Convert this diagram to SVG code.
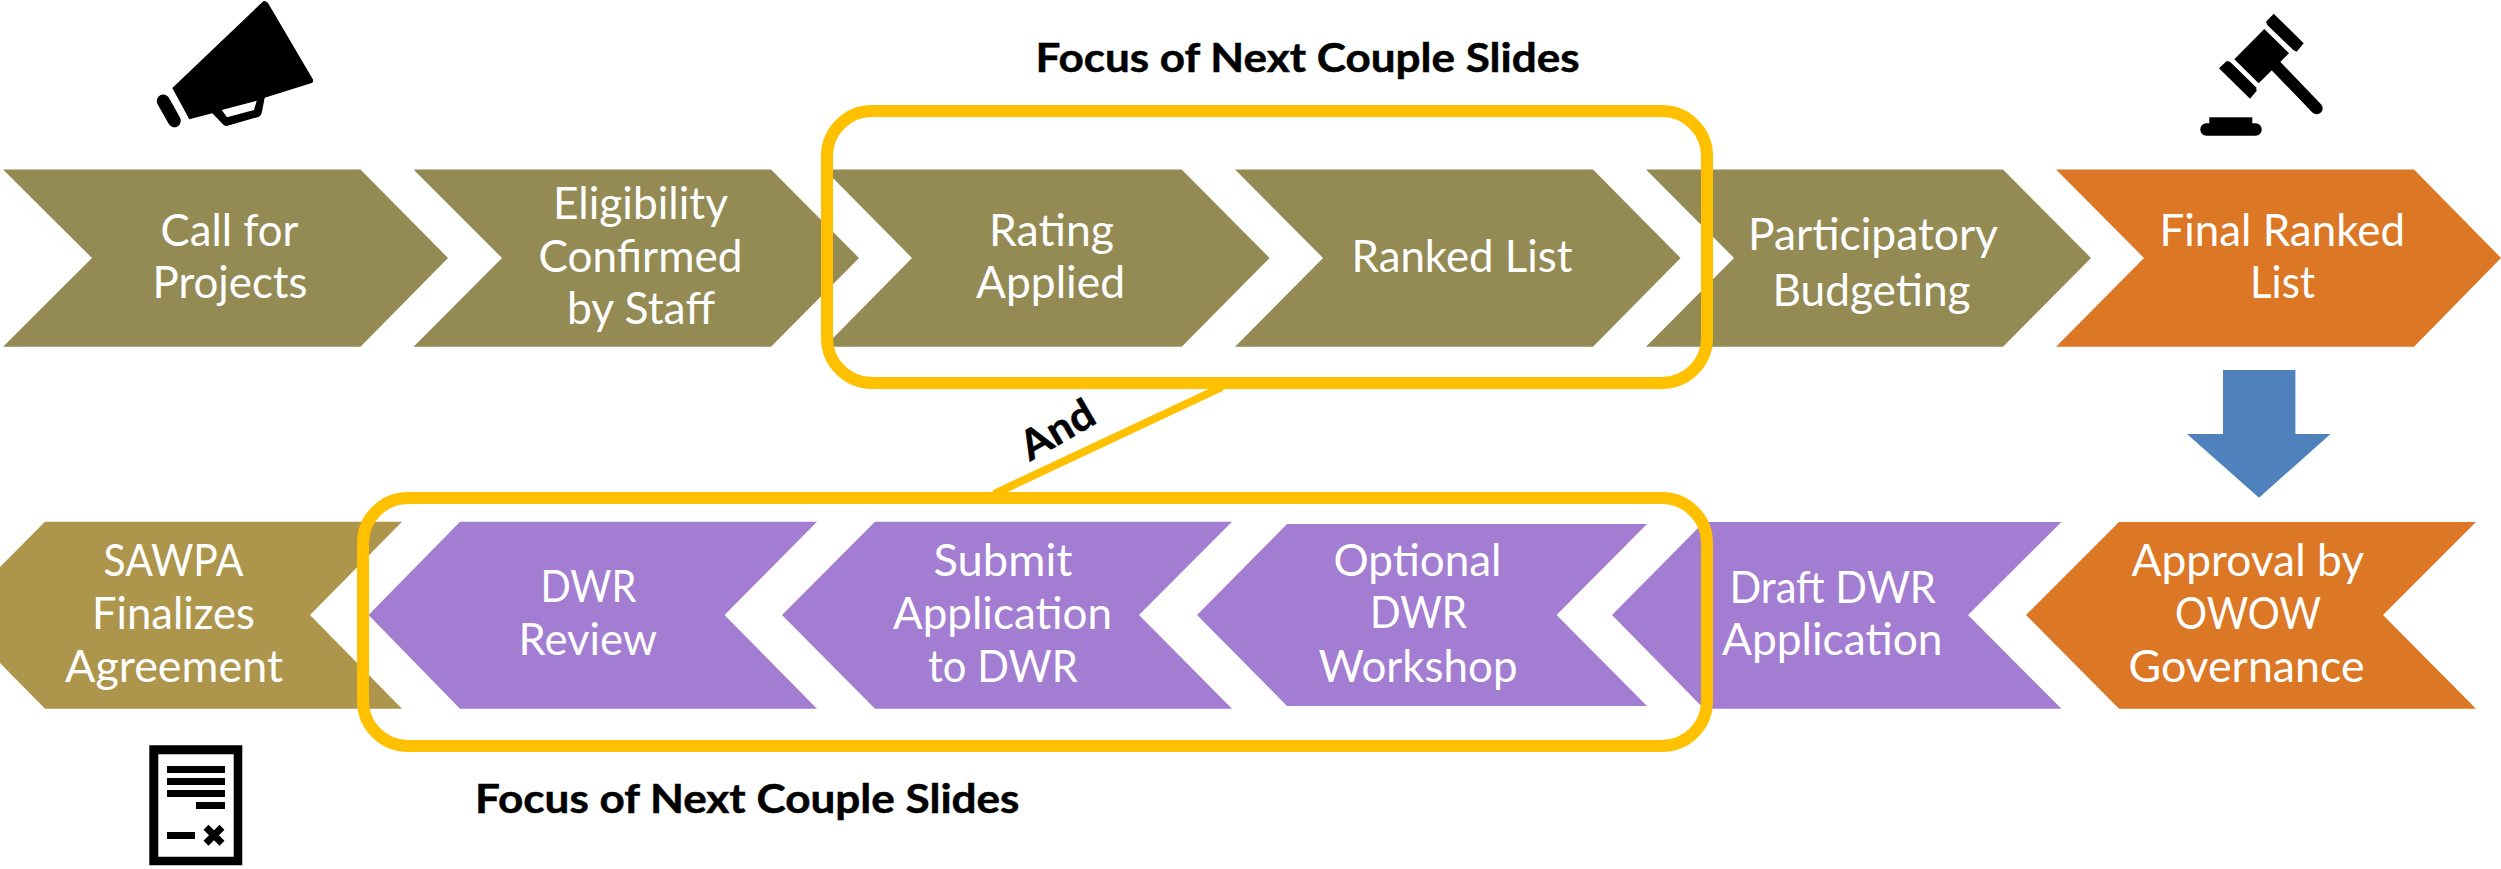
<svg xmlns="http://www.w3.org/2000/svg" width="2501" height="869" viewBox="0 0 2501 869">
<style>
.olive{fill:#948A54}.orange{fill:#DC7725}.purple{fill:#A37DD1}.gold{fill:#AE954C}
.t{font-family:Lato,"Open Sans","Liberation Sans",sans-serif;font-size:45px;fill:#fff}
.b{font-family:Lato,"Open Sans","Liberation Sans",sans-serif;font-size:41px;font-weight:700;fill:#000;stroke:#000;stroke-width:.5px}
.focus{fill:none;stroke:#FFC000;stroke-width:12}
</style>
<rect width="2501" height="869" fill="#fff"/>
<g id="n-call"><path class="olive" d="M3 169.500H360.500L448 258L360.500 346.700H3L92 258Z"/>
<text class="t" x="160.500" y="246" textLength="138" lengthAdjust="spacingAndGlyphs">Call for</text>
<text class="t" x="152.500" y="297.700" textLength="155" lengthAdjust="spacingAndGlyphs">Projects</text></g>
<g id="n-eligibility"><path class="olive" d="M413.500 169.500H771L859 258L771 346.700H413.500L502 258Z"/>
<text class="t" x="553" y="218.500" textLength="175" lengthAdjust="spacingAndGlyphs">Eligibility</text>
<text class="t" x="538.500" y="271.700" textLength="204" lengthAdjust="spacingAndGlyphs">Confirmed</text>
<text class="t" x="567" y="324.300" textLength="148" lengthAdjust="spacingAndGlyphs">by Staff</text></g>
<g id="n-rating"><path class="olive" d="M824.500 169.500H1181.700L1269.600 258L1181.700 346.700H824.500L912 258Z"/>
<text class="t" x="989" y="246" textLength="125" lengthAdjust="spacingAndGlyphs">Rating</text>
<text class="t" x="976" y="297.700" textLength="149" lengthAdjust="spacingAndGlyphs">Applied</text></g>
<g id="n-ranked"><path class="olive" d="M1235 169.500H1593L1680.600 258L1593 346.700H1235L1323 258Z"/>
<text class="t" x="1351.500" y="271.700" textLength="221" lengthAdjust="spacingAndGlyphs">Ranked List</text></g>
<g id="n-participatory"><path class="olive" d="M1646 169.500H2003L2091 258L2003 346.700H1646L1734 258Z"/>
<text class="t" x="1748" y="250" textLength="250" lengthAdjust="spacingAndGlyphs">Participatory</text>
<text class="t" x="1772.500" y="306" textLength="198" lengthAdjust="spacingAndGlyphs">Budgeting</text></g>
<g id="n-final"><path class="orange" d="M2056 169.500H2414L2501 258L2414 346.700H2056L2144 258Z"/>
<text class="t" x="2159.500" y="246" textLength="245.500" lengthAdjust="spacingAndGlyphs">Final Ranked</text>
<text class="t" x="2250" y="297.700" textLength="65" lengthAdjust="spacingAndGlyphs">List</text></g>
<g id="n-approval"><path class="orange" d="M2119 522H2476L2383 615L2476 708.700H2119L2026 615Z"/>
<text class="t" x="2131.500" y="575.700" textLength="232.500" lengthAdjust="spacingAndGlyphs">Approval by</text>
<text class="t" x="2175" y="628.700" textLength="146" lengthAdjust="spacingAndGlyphs">OWOW</text>
<text class="t" x="2128.500" y="681.700" textLength="236" lengthAdjust="spacingAndGlyphs">Governance</text></g>
<g id="n-draft"><path class="purple" d="M1704 522H2061.500L1968 615L2061.500 708.700H1704L1612 615Z"/>
<text class="t" x="1729.500" y="602.700" textLength="206.500" lengthAdjust="spacingAndGlyphs">Draft DWR</text>
<text class="t" x="1722" y="655" textLength="220.500" lengthAdjust="spacingAndGlyphs">Application</text></g>
<g id="n-workshop"><path class="purple" d="M1287 524H1647L1556.600 615L1647 706H1287L1197 615Z"/>
<text class="t" x="1333.500" y="575.700" textLength="168" lengthAdjust="spacingAndGlyphs">Optional</text>
<text class="t" x="1370" y="628" textLength="97" lengthAdjust="spacingAndGlyphs">DWR</text>
<text class="t" x="1318.500" y="681.700" textLength="199" lengthAdjust="spacingAndGlyphs">Workshop</text></g>
<g id="n-submit"><path class="purple" d="M875 521.700H1232L1139 615L1232 708.700H875L782 615Z"/>
<text class="t" x="933.500" y="575.700" textLength="139" lengthAdjust="spacingAndGlyphs">Submit</text>
<text class="t" x="893" y="629" textLength="219" lengthAdjust="spacingAndGlyphs">Application</text>
<text class="t" x="928" y="681.700" textLength="150" lengthAdjust="spacingAndGlyphs">to DWR</text></g>
<g id="n-review"><path class="purple" d="M460 521.700H817L724.500 615L817 708.700H460L368.500 615Z"/>
<text class="t" x="540.500" y="602.300" textLength="96" lengthAdjust="spacingAndGlyphs">DWR</text>
<text class="t" x="518.500" y="654.700" textLength="138.500" lengthAdjust="spacingAndGlyphs">Review</text></g>
<g id="n-sawpa"><path class="gold" d="M45 521.700H402L310 615L402 708.700H45L0 663V567Z"/>
<text class="t" x="103.500" y="575.700" textLength="140" lengthAdjust="spacingAndGlyphs">SAWPA</text>
<text class="t" x="92" y="629" textLength="163" lengthAdjust="spacingAndGlyphs">Finalizes</text>
<text class="t" x="65" y="681.700" textLength="218" lengthAdjust="spacingAndGlyphs">Agreement</text></g>
<g id="connectors">
<path d="M1222 387L994 494" fill="none" stroke="#FFC000" stroke-width="8"/>
<path d="M2223 370H2295.400V434H2330.500L2259 497.700L2187 434H2223Z" fill="#4F81BD"/>
</g>
<g id="focus-top"><rect class="focus" x="827" y="111" width="880" height="272" rx="45"/>
<text class="b" x="1035.500" y="71.700" textLength="544" lengthAdjust="spacingAndGlyphs">Focus of Next Couple Slides</text></g>
<g id="focus-bottom"><rect class="focus" x="363" y="498" width="1344" height="248" rx="45"/>
<text class="b" x="475" y="813" textLength="544.500" lengthAdjust="spacingAndGlyphs">Focus of Next Couple Slides</text></g>
<text class="b" transform="translate(1030 461.700) rotate(-30)" textLength="79" lengthAdjust="spacingAndGlyphs">And</text>
<g id="icon-megaphone">
<path fill-rule="evenodd" d="M172.300 88L261.700 2.700Q264 -1 268 3L312.700 79Q314 82 311.700 83L264.700 97.700L261.700 113Q261 116 259 116.700L226.700 126Q224 126 222.700 124L212.300 113.300L189.300 119.300ZM221.700 110L256.700 100.700L254 110L227 117.300Z"/>
<path d="M163.300 101L174.300 120.700" stroke="#000" stroke-width="13" stroke-linecap="round"/>
</g>
<g id="icon-gavel">
<path d="M2264.300 29L2289 53.300L2258.700 83.300L2234.300 59.300Z"/>
<path d="M2273 63L2316.700 108.300" stroke="#000" stroke-width="12" stroke-linecap="round"/>
<path d="M2273.700 13.700L2303.700 43.300L2296.700 51.700L2293.300 50L2267.300 25L2266 21.700Z"/>
<path d="M2226.700 61L2230 61.700L2256 87.300L2256.700 90.700L2250 98.700L2219 68.300Z"/>
<rect x="2209.300" y="117.300" width="43" height="8"/>
<rect x="2200.300" y="123.300" width="61.400" height="12.400" rx="6"/>
</g>
<g id="icon-document">
<path fill-rule="evenodd" d="M149.300 745.300H242.300V865.300H149.300ZM158.300 754.300V856.700H233.700V754.300Z"/>
<path d="M167 766H225V773H167ZM167 778H225V785H167ZM167 790H225V797H167ZM196 802H225V809H196ZM167 832H195V839H167Z"/>
<path d="M206 827.300L222 843.300M222 827.300L206 843.300" stroke="#000" stroke-width="7" fill="none"/>
</g>
</svg>
